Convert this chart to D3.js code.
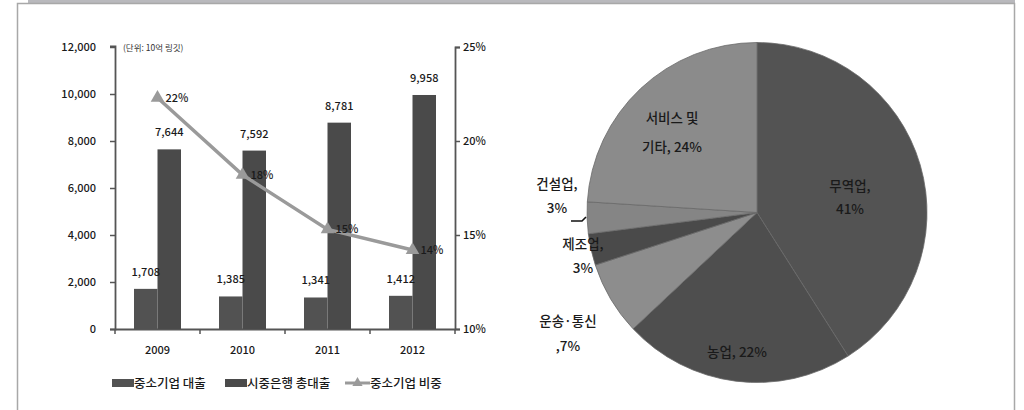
<!DOCTYPE html>
<html><head><meta charset="utf-8">
<script src="https://cdn.jsdelivr.net/npm/d3@7"></script>
<style>
body{margin:0;background:#fff;}
svg{display:block;}
text{font-family:"Liberation Sans Narrow","Noto Sans CJK KR",sans-serif;}
.kr{font-family:"Noto Sans CJK KR","Noto Sans",sans-serif;}
</style></head>
<body>
<svg id="c" width="1024" height="410"></svg>
<script>
// ---- data ----
const years = ["2009","2010","2011","2012"];
const smeLoans = [1708, 1385, 1341, 1412];
const totalLoans = [7644, 7592, 8781, 9958];
const smeShare = [22.3, 18.2, 15.3, 14.2];
const smeShareLabels = ["22%","18%","15%","14%"];
const leftTicks = [0,2000,4000,6000,8000,10000,12000];
const rightTicks = [10,15,20,25];
const legendLabels = ["중소기업 대출","시중은행 총대출","중소기업 비중"];
const unitLabel = "(단위: 10억 링깃)";

const sectors = ["무역업","농업","운송·통신","제조업","건설업","서비스 및 기타"];
const sectorShares = [41, 22, 7, 3, 3, 24];

// ---- frame ----
const svg = d3.select("#c");
svg.append("rect").attr("x",28).attr("y",0).attr("width",987).attr("height",3.5).attr("fill","#b9b9bd");
svg.append("path").attr("d","M17.5,420 V3.5 H1014.5 V420").attr("fill","none").attr("stroke","#a8a8a8").attr("stroke-width",1.5);

// ---- bar chart ----
const x = d3.scaleBand().domain(years).range([115,455]);
const y = d3.scaleLinear().domain([0,12000]).range([329,47]);
const y2 = d3.scaleLinear().domain([10,25]).range([329,47]);
const xs = d3.scaleBand().domain(["a","b"]).range([19,66]);

const axisColor = "#555";
const g = svg.append("g");

const la = g.append("g").attr("transform","translate(115,0)")
  .call(d3.axisLeft(y).tickValues(leftTicks).tickSize(5).tickPadding(14).tickFormat(d3.format(",")));
const ra = g.append("g").attr("transform","translate(455,0)")
  .call(d3.axisRight(y2).tickValues(rightTicks).tickSize(5).tickPadding(3).tickFormat(d=>d+"%"));
const xa = g.append("g").attr("transform","translate(0,329)")
  .call(d3.axisBottom(x).tickSize(0).tickPadding(17));
[la,ra,xa].forEach(a=>{
  a.select(".domain").attr("stroke",axisColor).attr("stroke-width",1.8);
  a.selectAll(".tick line").attr("stroke",axisColor).attr("stroke-width",1.5);
  a.selectAll("text").attr("fill","#1a1a1a").style("font-size","11px").style("font-weight","500")
   .style("font-family","'Liberation Sans Narrow','Noto Sans CJK KR',sans-serif");
});
la.select(".domain").attr("d","M-5,329.5H0.5V46.5H-5");
const bounds = years.map(d=>x(d)).concat([455]);
g.selectAll(".xb").data(bounds).enter().append("line")
  .attr("x1",d=>d).attr("x2",d=>d).attr("y1",329).attr("y2",334)
  .attr("stroke",axisColor).attr("stroke-width",1.5);

// bars
g.selectAll(".bs").data(years).enter().append("rect")
  .attr("x",d=>x(d)+xs("a")).attr("width",xs.bandwidth())
  .attr("y",(d,i)=>y(smeLoans[i])).attr("height",(d,i)=>329-y(smeLoans[i]))
  .attr("fill","#525252");
g.selectAll(".bt").data(years).enter().append("rect")
  .attr("x",d=>x(d)+xs("b")).attr("width",xs.bandwidth())
  .attr("y",(d,i)=>y(totalLoans[i])).attr("height",(d,i)=>329-y(totalLoans[i]))
  .attr("fill","#4a4a4a");
g.selectAll(".ls").data(years).enter().append("text")
  .attr("x",d=>x(d)+xs("a")+xs.bandwidth()/2).attr("y",(d,i)=>y(smeLoans[i])-13)
  .attr("text-anchor","middle").attr("fill","#1a1a1a").style("font-size","11px").style("font-weight","500")
  .text((d,i)=>d3.format(",")(smeLoans[i]));
g.selectAll(".lt").data(years).enter().append("text")
  .attr("x",d=>x(d)+xs("b")+xs.bandwidth()/2).attr("y",(d,i)=>y(totalLoans[i])-13)
  .attr("text-anchor","middle").attr("fill","#1a1a1a").style("font-size","11px").style("font-weight","500")
  .text((d,i)=>d3.format(",")(totalLoans[i]));

// line
const cx = d=>x(d)+x.bandwidth()/2;
const line = d3.line().x((d,i)=>cx(years[i])).y(d=>y2(d));
g.append("path").datum(smeShare).attr("d",line).attr("fill","none")
  .attr("stroke","#9a9a9a").attr("stroke-width",3.5);
const tri = d3.symbol().type(d3.symbolTriangle).size(80);
g.selectAll(".tri").data(smeShare).enter().append("path")
  .attr("d",tri).attr("transform",(d,i)=>`translate(${cx(years[i])},${y2(d)})`)
  .attr("fill","#9a9a9a");
g.selectAll(".pl").data(smeShare).enter().append("text")
  .attr("x",(d,i)=>cx(years[i])+8).attr("y",(d,i)=>y2(d)+4)
  .attr("fill","#1a1a1a").style("font-size","11px").style("font-weight","500")
  .text((d,i)=>smeShareLabels[i]);

g.append("text").attr("class","kr").attr("x",123).attr("y",51)
  .attr("fill","#333").style("font-size","8.5px").text(unitLabel);

// legend
const lg = g.append("g").attr("transform","translate(0,383)");
const lx = [112,225,345];
lg.append("rect").attr("x",lx[0]).attr("y",-4).attr("width",22).attr("height",8).attr("fill","#525252");
lg.append("rect").attr("x",lx[1]).attr("y",-4).attr("width",22).attr("height",8).attr("fill","#4a4a4a");
lg.append("line").attr("x1",lx[2]).attr("x2",lx[2]+25).attr("y1",0).attr("y2",0).attr("stroke","#9a9a9a").attr("stroke-width",3);
lg.append("path").attr("d",d3.symbol().type(d3.symbolTriangle).size(45)).attr("transform",`translate(${lx[2]+12.5},0)`).attr("fill","#9a9a9a");
lg.selectAll(".lt").data(legendLabels).enter().append("text").attr("class","kr")
  .attr("x",(d,i)=>lx[i]+(i==2?25:22)).attr("y",5).attr("fill","#1a1a1a")
  .style("font-size","12.5px").style("font-weight","500").text(d=>d);

// ---- pie ----
const pieColors = ["#535353","#4e4e4e","#8d8d8d","#4a4a4a","#858585","#8b8b8b"];
const pc = svg.append("g").attr("transform","translate(757,212.5)");
const pie = d3.pie().sort(null).value(d=>d);
const arc = d3.arc().innerRadius(0).outerRadius(170);
pc.selectAll(".s").data(pie(sectorShares)).enter().append("path")
  .attr("d",arc).attr("fill",(d,i)=>pieColors[i])
  .attr("stroke","#6a6a6a").attr("stroke-width",0.8);

const pieLabelLines = [
  ["무역업,","41%"],["농업, 22%"],["운송·통신",",7%"],["제조업,","3%"],["건설업,","3%"],["서비스 및","기타, 24%"]
];
const pieLabelPos = [[850,186],[737,352],[568,321],[583,244],[557,184],[672,118]];
const pieLabelGap = [23,0,25,24,24,29];
pieLabelLines.forEach((lines,i)=>{
  const t = svg.append("text").attr("class","kr").attr("text-anchor","middle")
    .attr("fill","#1a1a1a").style("font-size","13.5px").style("font-weight","500");
  lines.forEach((s,j)=>{
    t.append("tspan").attr("x",pieLabelPos[i][0])
      .attr("y",pieLabelPos[i][1]+5+j*pieLabelGap[i]).text(s);
  });
});
svg.append("path").attr("d","M571,221 H582 L586,217").attr("fill","none").attr("stroke","#111").attr("stroke-width",1.6);
</script>
</body></html>
